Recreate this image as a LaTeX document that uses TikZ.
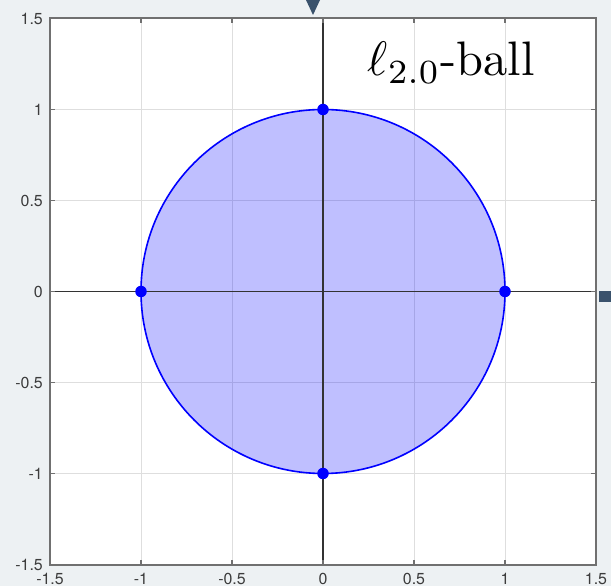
\documentclass[tikz,border=0pt]{standalone}
\usepackage{fontspec}
\setsansfont{TeX Gyre Heros}
\definecolor{bgc}{RGB}{237,241,243}
\definecolor{markc}{RGB}{58,82,108}
\definecolor{gridc}{RGB}{222,222,222}
\definecolor{boxc}{RGB}{112,112,112}
\definecolor{labc}{RGB}{60,60,60}
\tikzset{
  gridline/.style={draw=gridc, line width=1bp},
  axisline/.style={draw=black!80, line width=1.8bp},
  boxline/.style={draw=boxc, line width=2bp},
  tickmark/.style={draw=boxc, line width=1.2bp},
  ticklab/.style={font=\sffamily\fontsize{16}{16}\selectfont, text=labc, inner sep=0pt},
  ballfill/.style={fill=blue, fill opacity=0.25},
  balledge/.style={draw=blue, line width=1.6bp},
  dotnode/.style={circle, fill=blue, inner sep=0pt, minimum size=11.5bp},
}
\begin{document}
\begin{tikzpicture}[x=1bp,y=1bp]
\fill[bgc] (0,0) rectangle (611,586);
\useasboundingbox (0,0) rectangle (611,586);
% window markers
\fill[markc] (306,586) -- (320,586) -- (313,571) -- cycle;
\fill[markc] (599,295) rectangle (611,284);
\begin{scope}[shift={(323,294.5)}, x=182bp, y=182bp]
  \fill[white] (-1.5,-1.5) rectangle (1.5,1.5);
  \foreach \v in {-1,-0.5,0.5,1} {
    \draw[gridline] (\v,-1.5) -- (\v,1.5);
    \draw[gridline] (-1.5,\v) -- (1.5,\v);
  }
  % ball
  \fill[ballfill] (0,0) circle[radius=182bp];
  \draw[balledge] (0,0) circle[radius=182bp];
  % axes
  \draw[axisline] (-1.5,0) -- (1.5,0);
  \draw[axisline] (0,-1.5) -- (0,1.5);
  % ticks
  \foreach \v in {-1,-0.5,0,0.5,1} {
    \draw[tickmark] (\v,-1.5) -- ++(0,5bp);
    \draw[tickmark] (\v,1.5) -- ++(0,-5bp);
    \draw[tickmark] (-1.5,\v) -- ++(5bp,0);
    \draw[tickmark] (1.5,\v) -- ++(-5bp,0);
  }
  % box
  \draw[boxline] (-1.5,-1.5) rectangle (1.5,1.5);
  % tick labels
  \foreach \v/\t [count=\i] in {-1.5/-1.5,-1/-1,-0.5/-0.5,0/0,0.5/0.5,1/1,1.5/1.5} {
    \node[ticklab, anchor=base] (xl\i) at ([yshift=-292.5bp]\v,0) {\t};
    \node[ticklab, anchor=east] (yl\i) at ([xshift=-280bp]0,\v) {\t};
  }
  % points
  \node[dotnode] (pr) at (1,0) {};
  \node[dotnode] (pl) at (-1,0) {};
  \node[dotnode] (pt) at (0,1) {};
  \node[dotnode] (pb) at (0,-1) {};
\end{scope}
\node[anchor=base west, inner sep=0pt, scale=4.86] (title) at (367,510) {$\ell_{2.0}$-ball};
\end{tikzpicture}
\end{document}
